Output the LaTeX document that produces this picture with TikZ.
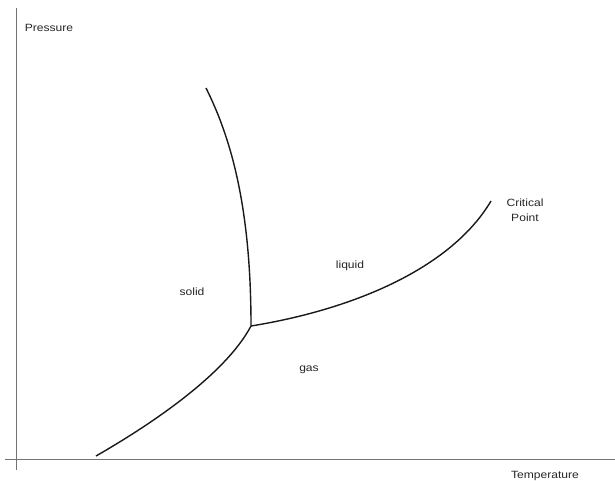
\documentclass[tikz,border=0pt]{standalone}
\usepackage{fontspec}
\setmainfont{Liberation Sans}
\begin{document}
\begin{tikzpicture}[x=1pt,y=-1pt,
  axis/.style={draw=black!55,line width=1pt},
  phase/.style={draw=black!90,line width=1.4pt},
  lbl/.style={font=\fontsize{10.5}{15}\selectfont,text=black!85,inner sep=0pt,align=center,xscale=1.15,transform shape}]
\useasboundingbox (0,0) rectangle (615,481);
% axes
\coordinate (ytop) at (16,8);
\coordinate (ybot) at (16,470);
\coordinate (xl) at (5,459);
\coordinate (xr) at (615,459);
\draw[axis] (ytop) -- (ybot);
\draw[axis] (xl) -- (xr);
% phase boundaries
\coordinate (triple) at (251,326);
\coordinate (fusiontop) at (206,88);
\coordinate (sublow) at (96,456);
\coordinate (crit) at (491,201);
\draw[phase] (fusiontop) .. controls (232,140) and (251,210) .. (triple);
\draw[phase] (triple) .. controls (350,310) and (450,270) .. (crit);
\draw[phase] (sublow) .. controls (150,425) and (225,375) .. (triple);
% labels
\node[lbl] (pressure) at (49,28) {Pressure};
\node[lbl] (temperature) at (545,476) {Temperature};
\node[lbl] (solid) at (192,292) {solid};
\node[lbl] (liquid) at (350,266) {liquid};
\node[lbl] (gas) at (309,370) {gas};
\node[lbl] (critlabel) at (525,210) {Critical\\Point};
\end{tikzpicture}
\end{document}
